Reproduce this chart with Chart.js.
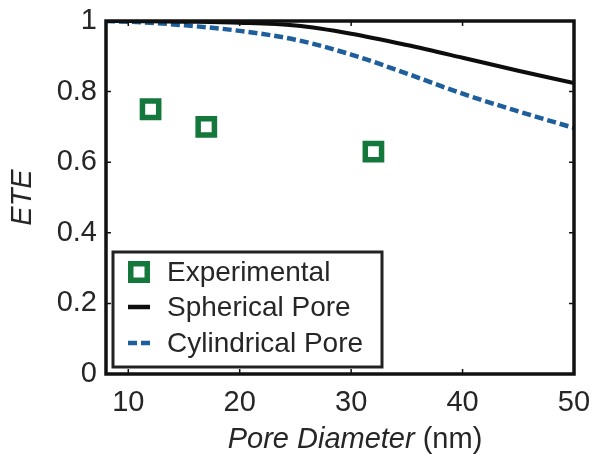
<!DOCTYPE html>
<html>
<head>
<meta charset="utf-8">
<script src="https://cdn.jsdelivr.net/npm/chart.js@4/dist/chart.umd.min.js"></script>
<style>
    html, body { margin: 0; padding: 0; background: #fff; }
    #wrap { width: 595px; height: 454px; position: relative; }
</style>
</head>
<body>
<div id="wrap"><canvas id="chart"></canvas></div>
<script>
// Data
const expDiameter = [12, 17, 32];
const expETE = [0.75, 0.70, 0.63];

const modelDiameter = [8, 10, 12, 15, 20, 25, 30, 35, 40, 45, 50];
const sphericalETE = [1.0, 1.0, 0.999, 0.998, 0.995, 0.987, 0.964, 0.932, 0.896, 0.859, 0.824];
const cylindricalETE = [1.0, 0.998, 0.995, 0.988, 0.972, 0.947, 0.905, 0.851, 0.794, 0.744, 0.697];

const xTicks = [10, 20, 30, 40, 50];
const yTicks = [0, 0.2, 0.4, 0.6, 0.8, 1];

const FONT = '"Liberation Sans", Arial, Helvetica, sans-serif';
const TEXT = '#262626';

function pairs(xs, ys) {
    return xs.map((x, i) => ({ x: x, y: ys[i] }));
}

// keep label overflow from shrinking the plot box
function noScalePadding(s) {
    s.paddingLeft = 0;
    s.paddingRight = 0;
    s.paddingTop = 0;
    s.paddingBottom = 0;
}

// Box frame with inward tick marks (matlab look)
const framePlugin = {
    id: 'frame',
    afterDatasetsDraw(chart) {
        const ctx = chart.ctx;
        const a = chart.chartArea;
        const xs = chart.scales.x, ys = chart.scales.y;
        ctx.save();
        ctx.strokeStyle = '#111';
        ctx.lineWidth = 1.5;
        ctx.beginPath();
        xTicks.forEach(v => {
            const px = xs.getPixelForValue(v);
            ctx.moveTo(px, a.bottom); ctx.lineTo(px, a.bottom - 5);
            ctx.moveTo(px, a.top); ctx.lineTo(px, a.top + 5);
        });
        yTicks.forEach(v => {
            const py = ys.getPixelForValue(v);
            ctx.moveTo(a.left, py); ctx.lineTo(a.left + 5, py);
            ctx.moveTo(a.right, py); ctx.lineTo(a.right - 5, py);
        });
        ctx.stroke();
        ctx.lineWidth = 3.5;
        ctx.strokeRect(a.left, a.top, a.right - a.left, a.bottom - a.top);
        ctx.restore();
    }
};

// Axis titles + boxed legend
const labelsPlugin = {
    id: 'labels',
    afterDraw(chart) {
        const ctx = chart.ctx;
        const a = chart.chartArea;
        ctx.save();
        ctx.fillStyle = TEXT;

        // y title
        ctx.save();
        ctx.translate(23, (a.top + a.bottom) / 2);
        ctx.rotate(-Math.PI / 2);
        ctx.font = 'italic 29px ' + FONT;
        ctx.textAlign = 'center';
        ctx.textBaseline = 'middle';
        ctx.fillText('ETE', 0, 0);
        ctx.restore();

        // x title, italic part + plain unit
        const part1 = 'Pore Diameter', part2 = ' (nm)';
        ctx.font = 'italic 29px ' + FONT;
        const w1 = ctx.measureText(part1).width;
        ctx.font = '29px ' + FONT;
        const w2 = ctx.measureText(part2).width;
        let x0 = (a.left + a.right) / 2 + 15 - (w1 + w2) / 2;
        ctx.textAlign = 'left';
        ctx.textBaseline = 'alphabetic';
        ctx.font = 'italic 29px ' + FONT;
        ctx.fillText(part1, x0, 448);
        ctx.font = '29px ' + FONT;
        ctx.fillText(part2, x0 + w1, 448);

        // legend box
        const bx = a.left + 7, by = 252, bw = 269, bh = 115;
        ctx.fillStyle = '#fff';
        ctx.fillRect(bx, by, bw, bh);
        ctx.strokeStyle = '#222';
        ctx.lineWidth = 3;
        ctx.strokeRect(bx, by, bw, bh);

        const ds = chart.data.datasets;
        const symX = 139, textX = 167;
        const rows = [272, 307, 343];
        ctx.font = '28px ' + FONT;
        ds.forEach((d, i) => {
            const cy = rows[i];
            ctx.save();
            ctx.strokeStyle = d.borderColor;
            if (d.type === 'scatter') {
                ctx.lineWidth = 5.5;
                ctx.strokeRect(symX - 8.25, cy - 8.25, 16.5, 16.5);
            } else {
                ctx.lineWidth = 4.5;
                ctx.setLineDash(d.borderDash || []);
                ctx.beginPath();
                ctx.moveTo(symX - 11, cy);
                ctx.lineTo(symX + 11, cy);
                ctx.stroke();
            }
            ctx.restore();
            ctx.fillStyle = TEXT;
            ctx.fillText(d.label, textX, cy + 9);
        });
        ctx.restore();
    }
};

new Chart(document.getElementById('chart'), {
    data: {
        datasets: [
            {
                type: 'scatter',
                label: 'Experimental',
                data: pairs(expDiameter, expETE),
                pointStyle: 'rect',
                pointRadius: 11.5,
                pointHoverRadius: 11.5,
                borderWidth: 5.5,
                borderColor: '#14783c',
                backgroundColor: 'rgba(0,0,0,0)'
            },
            {
                type: 'line',
                label: 'Spherical Pore',
                data: pairs(modelDiameter, sphericalETE),
                borderColor: '#0d0d0d',
                borderWidth: 4,
                pointRadius: 0,
                cubicInterpolationMode: 'monotone',
                fill: false
            },
            {
                type: 'line',
                label: 'Cylindrical Pore',
                data: pairs(modelDiameter, cylindricalETE),
                borderColor: '#1d5e9b',
                borderWidth: 4.5,
                borderDash: [9, 4],
                pointRadius: 0,
                cubicInterpolationMode: 'monotone',
                fill: false
            }
        ]
    },
    options: {
        responsive: true,
        maintainAspectRatio: false,
        animation: false,
        layout: { padding: { top: 21, right: 21, left: 0, bottom: 0 } },
        plugins: {
            legend: { display: false },
            tooltip: { enabled: false }
        },
        scales: {
            x: {
                type: 'linear',
                min: 8,
                max: 50,
                afterBuildTicks: s => { s.ticks = xTicks.map(v => ({ value: v })); },
                afterFit: s => { s.height = 80; noScalePadding(s); },
                grid: { display: false, drawTicks: false },
                border: { display: false },
                ticks: {
                    color: TEXT,
                    padding: 12,
                    font: { family: FONT, size: 29 },
                    maxRotation: 0
                }
            },
            y: {
                type: 'linear',
                min: 0,
                max: 1,
                afterBuildTicks: s => { s.ticks = yTicks.map(v => ({ value: v })); },
                afterFit: s => { s.width = 106; noScalePadding(s); },
                grid: { display: false, drawTicks: false },
                border: { display: false },
                ticks: {
                    color: TEXT,
                    padding: 9,
                    font: { family: FONT, size: 29 },
                    callback: v => String(Math.round(v * 10) / 10)
                }
            }
        }
    },
    plugins: [framePlugin, labelsPlugin]
});
</script>
</body>
</html>
